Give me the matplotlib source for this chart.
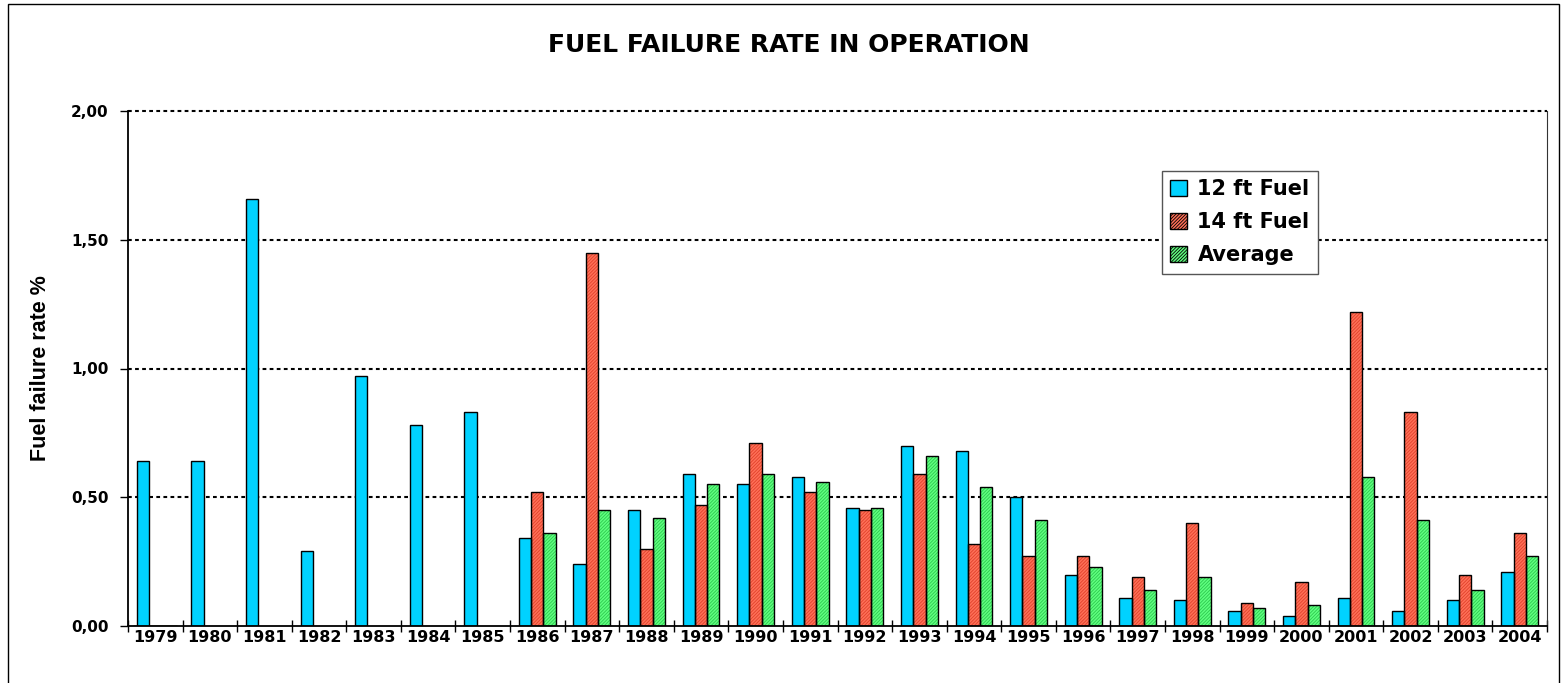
import numpy as np
import matplotlib
matplotlib.use("Agg")
import matplotlib.pyplot as plt
from matplotlib.patches import Rectangle

years = [str(y) for y in range(1979, 2005)]
fuel_12ft = [0.64, 0.64, 1.66, 0.29, 0.97, 0.78, 0.83, 0.34, 0.24, 0.45, 0.59, 0.55, 0.58,
             0.46, 0.70, 0.68, 0.50, 0.20, 0.11, 0.10, 0.06, 0.04, 0.11, 0.06, 0.10, 0.21]
fuel_14ft = [None] * 7 + [0.52, 1.45, 0.30, 0.47, 0.71, 0.52, 0.45, 0.59, 0.32, 0.27, 0.27,
                          0.19, 0.40, 0.09, 0.17, 1.22, 0.83, 0.20, 0.36]
average = [None] * 7 + [0.36, 0.45, 0.42, 0.55, 0.59, 0.56, 0.46, 0.66, 0.54, 0.41, 0.23,
                        0.14, 0.19, 0.07, 0.08, 0.58, 0.41, 0.14, 0.27]
series_labels = ["12 ft Fuel", "14 ft Fuel", "Average"]

plt.rcParams["hatch.linewidth"] = 0.6

W, H = 1562, 683
fig = plt.figure(figsize=(W / 100, H / 100), dpi=100)
ax = fig.add_axes([128 / W, (H - 626) / H, (1547 - 128) / W, (626 - 111) / H])

x = np.arange(len(years))
bw = 0.225
HATCH = "//////////"

BLUE = "#00D2FF"
RED, RED_H = "#FF7058", "#E0402A"
GREEN, GREEN_H = "#60FF80", "#2CC84E"


def draw(vals, offset, face, hatch_col=None):
    xs = [xi + offset for xi, v in zip(x, vals) if v is not None]
    hs = [v for v in vals if v is not None]
    if hatch_col:
        ax.bar(xs, hs, bw, color=face, edgecolor=hatch_col, hatch=HATCH, lw=0, zorder=2)
    else:
        ax.bar(xs, hs, bw, color=face, lw=0, zorder=2)
    ax.bar(xs, hs, bw, fill=False, edgecolor="black", lw=1.0, zorder=3)


draw(fuel_12ft, -bw, BLUE)
draw(fuel_14ft, 0, RED, RED_H)
draw(average, bw, GREEN, GREEN_H)

# legend handles
h1 = ax.bar([0], [0], color=BLUE, edgecolor="black", lw=1)
h2 = ax.bar([0], [0], color=RED, edgecolor=RED_H, hatch=HATCH, lw=1)
h3 = ax.bar([0], [0], color=GREEN, edgecolor=GREEN_H, hatch=HATCH, lw=1)
leg = ax.legend([h1, h2, h3], series_labels, loc="upper left",
                bbox_to_anchor=((1162 - 128) / (1547 - 128), (626 - 171) / (626 - 111)),
                prop={"family": "DejaVu Sans", "weight": "bold", "size": 15},
                frameon=True, fancybox=False, edgecolor="#555555", framealpha=1,
                handlelength=0.8, handleheight=0.8, handletextpad=0.5,
                labelspacing=0.62, borderpad=0.4, borderaxespad=0)
leg.get_frame().set_linewidth(1.0)
for p in leg.get_patches():
    p.set_edgecolor("black")
leg.set_zorder(5)

ax.set_xlim(-0.5, len(years) - 0.5)
ax.set_ylim(0, 2.0)
ax.set_yticks([0, 0.5, 1.0, 1.5, 2.0])
ax.set_yticklabels([f"{v:.2f}".replace(".", ",") for v in [0, 0.5, 1.0, 1.5, 2.0]],
                   family="DejaVu Sans", weight="bold", fontsize=11)
ax.set_xticks(np.arange(len(years) + 1) - 0.5)
ax.set_xticklabels([])
ax.set_xticks(x, minor=True)
ax.set_xticklabels(years, minor=True, family="DejaVu Sans", weight="bold", fontsize=11.5)
ax.tick_params(axis="x", which="major", direction="inout", length=8, width=1)
ax.tick_params(axis="x", which="minor", length=0, pad=3)
ax.tick_params(axis="y", direction="out", length=6, width=1, pad=8)

for yv in [0.5, 1.0, 1.5, 2.0]:
    ax.axhline(yv, color="black", lw=1.5, ls=(0, (1.8, 1.6)), zorder=1, clip_on=False)

ax.spines["top"].set_visible(False)
ax.spines["right"].set_color("#333333")
ax.spines["left"].set_linewidth(1.3)
ax.spines["bottom"].set_linewidth(1.3)

ax.set_ylabel("Fuel failure rate %", family=["Liberation Sans", "DejaVu Sans"], weight="bold",
              fontsize=15.5, labelpad=14)

fig.text(0.505, 1 - 45 / H, "FUEL FAILURE RATE IN OPERATION", ha="center", va="center",
         family="DejaVu Sans", weight="bold", fontsize=18)

# outer chart frame
fig.add_artist(Rectangle((8 / W, -0.01), (1559 - 8) / W, 1.01 - 4 / H, transform=fig.transFigure,
                         fill=False, edgecolor="black", lw=1.0))

fig.savefig("out.png", dpi=100)
